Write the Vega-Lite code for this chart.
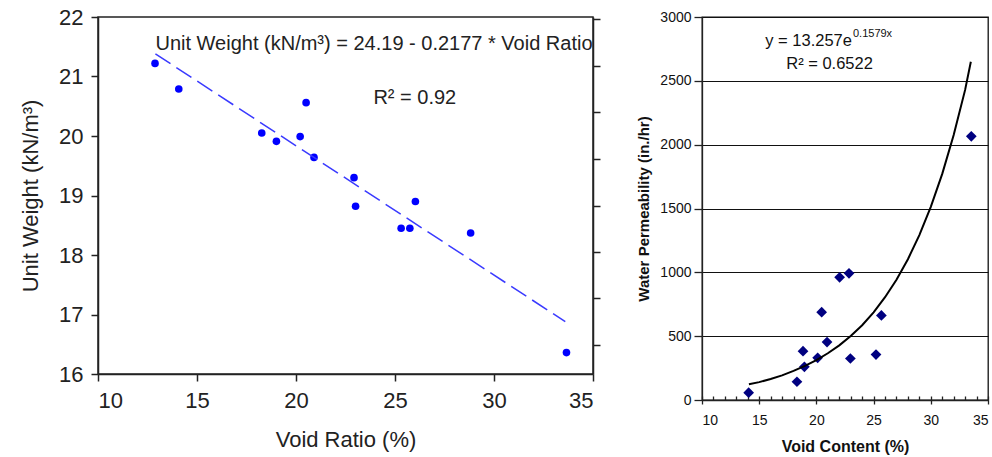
{
  "$schema": "https://vega.github.io/schema/vega-lite/v6.json",
  "padding": {"left": 18, "top": 5, "right": 4, "bottom": 0},
  "spacing": 34,
  "config": {
    "font": "Liberation Sans",
    "axis": {"domainColor": "#222", "tickColor": "#222", "labelColor": "#222", "titleColor": "#222", "titleFontWeight": "normal", "grid": false}
  },
  "datasets": {
    "uw": [
      {"void": 12.88, "uw": 21.22},
      {"void": 14.08, "uw": 20.79},
      {"void": 20.51, "uw": 20.56},
      {"void": 18.27, "uw": 20.05},
      {"void": 19.01, "uw": 19.91},
      {"void": 20.21, "uw": 19.99},
      {"void": 20.91, "uw": 19.64},
      {"void": 22.93, "uw": 19.3},
      {"void": 23.01, "uw": 18.82},
      {"void": 26.03, "uw": 18.9},
      {"void": 25.31, "uw": 18.45},
      {"void": 25.75, "uw": 18.45},
      {"void": 28.82, "uw": 18.37},
      {"void": 33.66, "uw": 16.36}
    ],
    "uwfit": [
      {"void": 12.9, "uw": 21.38},
      {"void": 33.6, "uw": 16.88}
    ],
    "perm": [
      {"void": 14.08, "k": 57},
      {"void": 18.3, "k": 143},
      {"void": 18.83, "k": 382},
      {"void": 18.95, "k": 260},
      {"void": 20.11, "k": 330},
      {"void": 20.46, "k": 688},
      {"void": 20.93, "k": 454},
      {"void": 22.03, "k": 961},
      {"void": 22.85, "k": 992},
      {"void": 22.97, "k": 325},
      {"void": 25.21, "k": 356},
      {"void": 25.68, "k": 662},
      {"void": 33.54, "k": 2065}
    ],
    "permfit": [
      {"void": 14.1, "k": 123},
      {"void": 15, "k": 140},
      {"void": 16, "k": 165},
      {"void": 17, "k": 193},
      {"void": 18, "k": 228},
      {"void": 19, "k": 267},
      {"void": 20, "k": 312},
      {"void": 21, "k": 366},
      {"void": 22, "k": 428},
      {"void": 23, "k": 502},
      {"void": 24, "k": 586},
      {"void": 25, "k": 687},
      {"void": 26, "k": 805},
      {"void": 27, "k": 942},
      {"void": 28, "k": 1103},
      {"void": 29, "k": 1292},
      {"void": 30, "k": 1513},
      {"void": 31, "k": 1771},
      {"void": 32, "k": 2075},
      {"void": 33, "k": 2429},
      {"void": 33.5, "k": 2650}
    ]
  },
  "hconcat": [
    {
      "width": 495,
      "height": 357,
      "view": {"stroke": "#222", "strokeWidth": 1.5},
      "resolve": {"axis": {"x": "independent", "y": "independent"}},
      "layer": [
        {
          "data": {"name": "uw"},
          "mark": {"type": "circle", "size": 58, "color": "#0000ff", "opacity": 1},
          "encoding": {
            "x": {"field": "void", "type": "quantitative",
              "scale": {"domain": [10, 35], "nice": false, "zero": false},
              "axis": {"orient": "bottom", "values": [10, 15, 20, 25, 30, 35], "title": "Void Ratio (%)", "titleFontSize": 22, "labelFontSize": 22, "tickSize": 7, "tickWidth": 1.5, "domainWidth": 1.5, "labelPadding": 9, "titlePadding": 18}},
            "y": {"field": "uw", "type": "quantitative",
              "scale": {"domain": [16, 22], "nice": false, "zero": false},
              "axis": {"orient": "left", "values": [16, 17, 18, 19, 20, 21, 22], "title": "Unit Weight (kN/m³)", "titleFontSize": 22, "labelFontSize": 22, "tickSize": 7, "tickWidth": 1.5, "domainWidth": 1.5, "labelPadding": 8, "titlePadding": 16}}
          }
        },
        {
          "data": {"name": "uwfit"},
          "mark": {"type": "line", "color": "#3a3aff", "strokeWidth": 1.5, "strokeDash": [18, 7]},
          "encoding": {
            "x": {"field": "void", "type": "quantitative", "axis": null},
            "y": {"field": "uw", "type": "quantitative",
              "axis": {"orient": "right", "values": [16.49, 17.27, 18.05, 18.83, 19.62, 20.4, 21.18, 21.96], "labels": false, "title": null, "tickSize": 7, "tickWidth": 1.5, "domainWidth": 1.5}}
          }
        },
        {
          "data": {"values": [
            {"x": 23.94, "y": 21.55, "label": "Unit Weight (kN/m³) = 24.19 - 0.2177 * Void Ratio"},
            {"x": 26.0, "y": 20.64, "label": "R² = 0.92"}
          ]},
          "mark": {"type": "text", "fontSize": 20, "color": "#222", "align": "center", "baseline": "middle"},
          "encoding": {
            "x": {"field": "x", "type": "quantitative", "axis": null},
            "y": {"field": "y", "type": "quantitative", "axis": null},
            "text": {"field": "label"}
          }
        }
      ]
    },
    {
      "width": 286,
      "height": 383,
      "view": {"stroke": "#111", "strokeWidth": 1.3},
      "resolve": {"axis": {"x": "independent", "y": "independent"}},
      "layer": [
        {
          "data": {"name": "perm"},
          "mark": {"type": "point", "shape": "diamond", "filled": true, "size": 115, "color": "#000080", "opacity": 1},
          "encoding": {
            "x": {"field": "void", "type": "quantitative",
              "scale": {"domain": [10, 35], "nice": false, "zero": false},
              "axis": {"orient": "bottom", "values": [10, 15, 20, 25, 30, 35], "format": "d", "title": "Void Content (%)", "titleFontSize": 16, "titleFontWeight": "bold", "labelFontSize": 14, "tickSize": 4, "tickWidth": 1.3, "domainWidth": 1.3, "labelPadding": 9, "titlePadding": 11, "labelColor": "#111", "titleColor": "#111"}},
            "y": {"field": "k", "type": "quantitative",
              "scale": {"domain": [0, 3000], "nice": false, "zero": true},
              "axis": {"orient": "left", "values": [0, 500, 1000, 1500, 2000, 2500, 3000], "format": "d", "grid": true, "gridColor": "#111", "gridWidth": 1.2, "gridOpacity": 1, "title": "Water Permeability (in./hr)", "titleFontSize": 15, "titleFontWeight": "bold", "labelFontSize": 14, "tickSize": 8, "tickWidth": 1.3, "domainWidth": 1.3, "labelPadding": 3, "titlePadding": 8, "labelColor": "#111", "titleColor": "#111"}}
          }
        },
        {
          "data": {"name": "permfit"},
          "mark": {"type": "line", "color": "#000", "strokeWidth": 2},
          "encoding": {
            "x": {"field": "void", "type": "quantitative",
              "axis": {"orient": "bottom", "values": [10, 11, 12, 13, 14, 15, 16, 17, 18, 19, 20, 21, 22, 23, 24, 25, 26, 27, 28, 29, 30, 31, 32, 33, 34, 35], "labels": false, "domain": false, "title": null, "tickSize": -4, "tickWidth": 1.3}},
            "y": {"field": "k", "type": "quantitative", "axis": null}
          }
        },
        {
          "data": {"values": [
            {"x": 23.11, "y": 2814, "label": "y = 13.257e"}
          ]},
          "mark": {"type": "text", "fontSize": 16.5, "color": "#111", "align": "right", "baseline": "middle"},
          "encoding": {
            "x": {"field": "x", "type": "quantitative", "axis": null},
            "y": {"field": "y", "type": "quantitative", "axis": null},
            "text": {"field": "label"}
          }
        },
        {
          "data": {"values": [
            {"x": 23.11, "y": 2870, "label": "0.1579x"}
          ]},
          "mark": {"type": "text", "fontSize": 11, "color": "#111", "align": "left", "baseline": "middle", "dx": 1},
          "encoding": {
            "x": {"field": "x", "type": "quantitative", "axis": null},
            "y": {"field": "y", "type": "quantitative", "axis": null},
            "text": {"field": "label"}
          }
        },
        {
          "data": {"values": [
            {"x": 21.15, "y": 2635, "label": "R² = 0.6522"}
          ]},
          "mark": {"type": "text", "fontSize": 16.5, "color": "#111", "align": "center", "baseline": "middle"},
          "encoding": {
            "x": {"field": "x", "type": "quantitative", "axis": null},
            "y": {"field": "y", "type": "quantitative", "axis": null},
            "text": {"field": "label"}
          }
        }
      ]
    }
  ]
}
